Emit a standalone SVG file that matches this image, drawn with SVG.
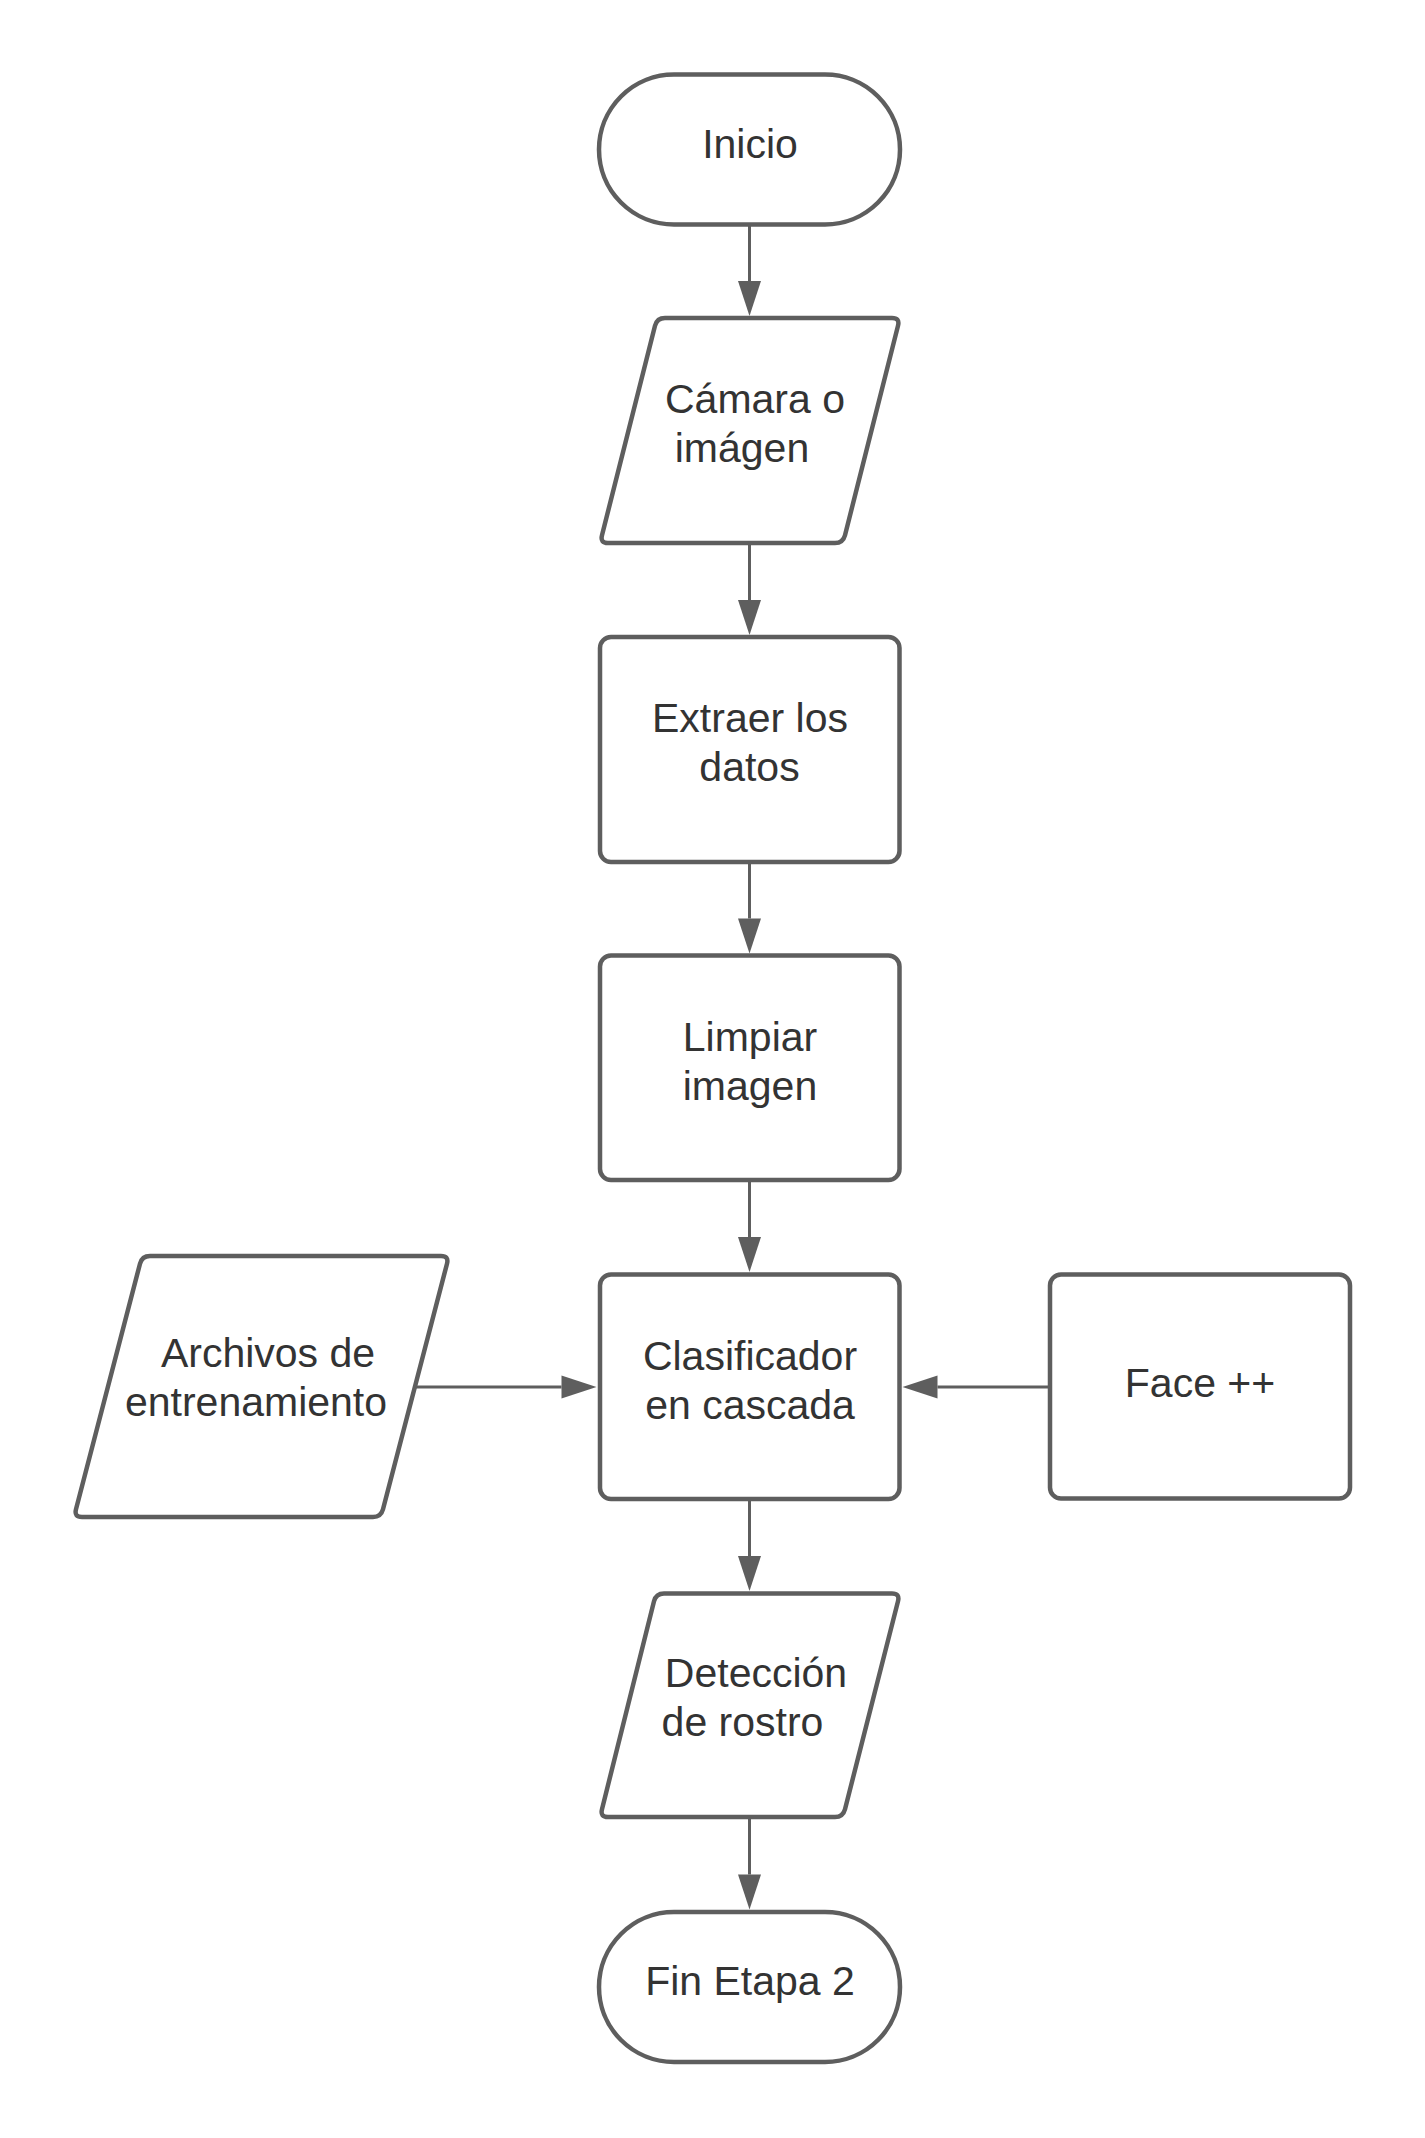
<svg xmlns="http://www.w3.org/2000/svg" width="1425" height="2138" viewBox="0 0 1425 2138">
<style>
.shape{fill:#ffffff;stroke:#5e5e5e;stroke-width:4.5;stroke-linejoin:round}
.conn{fill:none;stroke:#5e5e5e;stroke-width:3}
.lbl{font-family:"Liberation Sans",Arial,sans-serif;font-size:41px;fill:#333333;text-anchor:middle}
</style>
<defs>
<marker id="arrow" markerUnits="userSpaceOnUse" markerWidth="36" markerHeight="24" refX="0" refY="11.5" orient="auto" overflow="visible">
<path d="M0,0 L35,11.5 L0,23 Z" fill="#5e5e5e"/>
</marker>
</defs>
<rect width="1425" height="2138" fill="#ffffff"/>
<g id="connectors">
<line class="conn" x1="749.5" y1="224.5" x2="749.5" y2="281" marker-end="url(#arrow)"/>
<line class="conn" x1="749.5" y1="543" x2="749.5" y2="600" marker-end="url(#arrow)"/>
<line class="conn" x1="749.5" y1="862" x2="749.5" y2="918.5" marker-end="url(#arrow)"/>
<line class="conn" x1="749.5" y1="1180" x2="749.5" y2="1237" marker-end="url(#arrow)"/>
<line class="conn" x1="749.5" y1="1499" x2="749.5" y2="1556" marker-end="url(#arrow)"/>
<line class="conn" x1="749.5" y1="1817" x2="749.5" y2="1874.5" marker-end="url(#arrow)"/>
<line class="conn" x1="416" y1="1387" x2="561.5" y2="1387" marker-end="url(#arrow)"/>
<line class="conn" x1="1050" y1="1387" x2="937.5" y2="1387" marker-end="url(#arrow)"/>
</g>
<g id="inicio">
<rect class="shape" x="599" y="74.5" width="301" height="150" rx="75" ry="75"/>
<text class="lbl" x="750" y="158">Inicio</text>
</g>
<g id="camara">
<path class="shape" d="M665,318 L892,318 Q900,318 898,325.8 L845,535.2 Q843,543 835,543 L608,543 Q600,543 602,535.2 L655,325.8 Q657,318 665,318 Z"/>
<text class="lbl" x="755" y="413">Cámara o</text>
<text class="lbl" x="742" y="462">imágen</text>
</g>
<g id="extraer">
<rect class="shape" x="600" y="637" width="299.5" height="225" rx="11" ry="11"/>
<text class="lbl" x="750" y="732">Extraer los</text>
<text class="lbl" x="749.5" y="781">datos</text>
</g>
<g id="limpiar">
<rect class="shape" x="600" y="955.5" width="299.5" height="224.5" rx="11" ry="11"/>
<text class="lbl" x="750" y="1051">Limpiar</text>
<text class="lbl" x="750" y="1100">imagen</text>
</g>
<g id="clasificador">
<rect class="shape" x="600" y="1274.5" width="299.5" height="224.5" rx="11" ry="11"/>
<text class="lbl" x="750" y="1370">Clasificador</text>
<text class="lbl" x="750" y="1419">en cascada</text>
</g>
<g id="archivos">
<path class="shape" d="M150,1256 L441,1256 Q449,1256 447,1263.7 L383,1509.3 Q381,1517 373,1517 L82,1517 Q74,1517 76,1509.3 L140,1263.7 Q142,1256 150,1256 Z"/>
<text class="lbl" x="268" y="1367">Archivos de</text>
<text class="lbl" x="256" y="1416">entrenamiento</text>
</g>
<g id="face">
<rect class="shape" x="1050" y="1274.5" width="300" height="224" rx="11" ry="11"/>
<text class="lbl" x="1200" y="1397">Face ++</text>
</g>
<g id="deteccion">
<path class="shape" d="M664,1593.5 L892,1593.5 Q900,1593.5 898,1601.3 L845,1809.2 Q843,1817 835,1817 L608,1817 Q600,1817 602,1809.2 L654,1601.3 Q656,1593.5 664,1593.5 Z"/>
<text class="lbl" x="756" y="1687">Detección</text>
<text class="lbl" x="742.5" y="1736">de rostro</text>
</g>
<g id="fin">
<rect class="shape" x="599" y="1912" width="301" height="150" rx="75" ry="75"/>
<text class="lbl" x="750" y="1995">Fin Etapa 2</text>
</g>
</svg>
